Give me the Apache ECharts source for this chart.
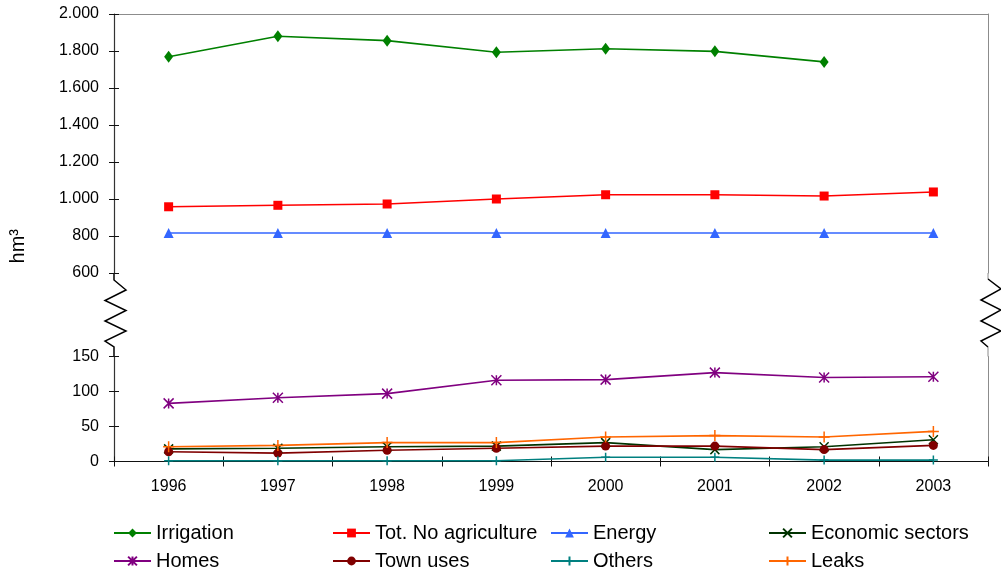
<!DOCTYPE html>
<html>
<head>
<meta charset="utf-8">
<script src="https://cdn.jsdelivr.net/npm/echarts@6/dist/echarts.min.js"></script>
<style>
html,body{margin:0;padding:0;background:#fff;}
#chart{width:1001px;height:574px;}
</style>
</head>
<body>
<div id="chart"></div>
<script>
// ---- data ----
const years = ['1996','1997','1998','1999','2000','2001','2002','2003'];
const irrigation = [1769, 1880, 1856, 1793, 1812, 1798, 1741, null];
const totNoAgri = [958, 966, 973, 1000, 1023, 1023, 1016, 1038];
const energy = [816, 816, 816, 816, 816, 816, 816, 816];
const economicSectors = [18, 19, 21, 22, 27, 17, 21, 31];
const homes = [83, 91, 97, 116, 117, 127, 120, 121];
const townUses = [14, 12, 16, 19, 22, 22, 17, 23];
const others = [1, 1, 1, 1, 6, 6, 2, 2];
const leaks = [21, 23, 27, 27, 35, 37, 35, 43];
const upperTicks = {min: 600, max: 2000, interval: 200};
const lowerTicks = {min: 0, max: 150, interval: 50};
const yTitle = 'hm³';

// ---- layout ----
const FONT = '"Liberation Sans", Arial, sans-serif';
const L = 114, R = 988;
const upTop = 14, upBot = 273;
const loTop = 356.5, loBot = 461.5;
const W = 1001, H = 574;

function fmt(v) {
  if (v >= 1000) {
    return Math.floor(v / 1000) + '.' + String(v % 1000).padStart(3, '0');
  }
  return String(v);
}

const PATH_X = 'path://M0,0 L10,10 M10,0 L0,10';
const PATH_AST = 'path://M0,0 L10,10 M10,0 L0,10 M5,0 L5,10';
const PATH_PLUS = 'path://M5,0 L5,10 M0,5 L10,5';

function mkSeries(name, data, color, symbol, size, grid, stroke) {
  const s = {
    name: name,
    type: 'line',
    data: data,
    xAxisIndex: grid === 0 ? 0 : 1,
    yAxisIndex: grid === 0 ? 0 : 3,
    symbol: symbol,
    symbolSize: size,
    showAllSymbol: true,
    connectNulls: false,
    lineStyle: {color: color, width: 1.6},
    itemStyle: {color: color},
    emphasis: {disabled: true},
    animation: false
  };
  if (stroke) {
    s.itemStyle = {color: color, borderColor: color, borderWidth: 1.5};
  }
  return s;
}

const series = [
  mkSeries('Irrigation', irrigation, '#008000', 'diamond', [9, 12], 0, false),
  mkSeries('Tot. No agriculture', totNoAgri, '#FF0000', 'rect', 9, 0, false),
  mkSeries('Energy', energy, '#3366FF', 'triangle', 10, 0, false),
  mkSeries('Economic sectors', economicSectors, '#003300', PATH_X, 9, 1, true),
  mkSeries('Homes', homes, '#800080', PATH_AST, 10, 1, true),
  mkSeries('Town uses', townUses, '#800000', 'circle', 9, 1, false),
  mkSeries('Others', others, '#008080', PATH_PLUS, 9, 1, true),
  mkSeries('Leaks', leaks, '#FF6600', PATH_PLUS, 11, 1, true)
];

// legend positions (icon left, row centre)
const legendPos = [
  [113, 534], [332, 534], [550, 534], [768, 534],
  [113, 562], [332, 562], [550, 562], [768, 562]
];
const legendOrder = ['Irrigation', 'Tot. No agriculture', 'Energy', 'Economic sectors',
  'Homes', 'Town uses', 'Others', 'Leaks'];
const legends = legendOrder.map((n, i) => ({
  data: [n],
  left: legendPos[i][0],
  top: legendPos[i][1] - 11,
  padding: 0,
  itemWidth: 37,
  itemHeight: 11,
  itemGap: 0,
  selectedMode: false,
  textStyle: {fontFamily: FONT, fontSize: 20, color: '#000'}
}));

const axisDark = '#333';
const gray = '#8c8c8c';

const option = {
  animation: false,
  backgroundColor: '#fff',
  textStyle: {fontFamily: FONT},
  legend: legends,
  grid: [
    {left: L, right: W - R, top: upTop, bottom: H - upBot, containLabel: false},
    {left: L, right: W - R, top: loTop, bottom: H - loBot, containLabel: false}
  ],
  xAxis: [
    {gridIndex: 0, type: 'category', data: years, position: 'top',
      axisLine: {onZero: false, lineStyle: {color: gray, width: 1}},
      axisTick: {show: false}, axisLabel: {show: false}, splitLine: {show: false}},
    {gridIndex: 1, type: 'category', data: years, position: 'bottom',
      axisLine: {onZero: false, lineStyle: {color: '#111', width: 1.2}},
      axisTick: {show: true, inside: false, length: 5, lineStyle: {color: '#111'}},
      axisLabel: {fontFamily: FONT, fontSize: 16, color: '#000', margin: 17},
      splitLine: {show: false}},
    {gridIndex: 1, type: 'category', data: years, position: 'bottom',
      axisLine: {show: false},
      axisTick: {show: true, inside: true, length: 5, lineStyle: {color: '#111'}},
      axisLabel: {show: false}, splitLine: {show: false}}
  ],
  yAxis: [
    {gridIndex: 0, type: 'value', position: 'left', min: upperTicks.min, max: upperTicks.max, interval: upperTicks.interval,
      axisLine: {show: true, onZero: false, lineStyle: {color: axisDark, width: 1.2}},
      axisTick: {show: true, inside: false, length: 5, lineStyle: {color: '#111'}},
      axisLabel: {fontFamily: FONT, fontSize: 16, color: '#000', margin: 15, formatter: fmt},
      splitLine: {show: false}},
    {gridIndex: 0, type: 'value', position: 'left', min: upperTicks.min, max: upperTicks.max, interval: upperTicks.interval,
      axisLine: {show: false},
      axisTick: {show: true, inside: true, length: 5, lineStyle: {color: '#111'}},
      axisLabel: {show: false}, splitLine: {show: false}},
    {gridIndex: 0, type: 'value', position: 'right', min: upperTicks.min, max: upperTicks.max, interval: upperTicks.interval,
      axisLine: {show: true, onZero: false, lineStyle: {color: gray, width: 1}},
      axisTick: {show: false}, axisLabel: {show: false}, splitLine: {show: false}},
    {gridIndex: 1, type: 'value', position: 'left', min: lowerTicks.min, max: lowerTicks.max, interval: lowerTicks.interval,
      axisLine: {show: true, onZero: false, lineStyle: {color: axisDark, width: 1.2}},
      axisTick: {show: true, inside: false, length: 5, lineStyle: {color: '#111'}},
      axisLabel: {fontFamily: FONT, fontSize: 16, color: '#000', margin: 15},
      splitLine: {show: false}},
    {gridIndex: 1, type: 'value', position: 'left', min: lowerTicks.min, max: lowerTicks.max, interval: lowerTicks.interval,
      axisLine: {show: false},
      axisTick: {show: true, inside: true, length: 5, lineStyle: {color: '#111'}},
      axisLabel: {show: false}, splitLine: {show: false}},
    {gridIndex: 1, type: 'value', position: 'right', min: lowerTicks.min, max: lowerTicks.max, interval: lowerTicks.interval,
      axisLine: {show: true, onZero: false, lineStyle: {color: gray, width: 1}},
      axisTick: {show: false}, axisLabel: {show: false}, splitLine: {show: false}}
  ],
  graphic: [
    {type: 'text', left: 8, top: 247 - 18, rotation: Math.PI / 2,
      style: {text: yTitle, font: '20px ' + FONT, fill: '#000'}},
    // left axis break
    {type: 'polyline', silent: true, shape: {points: [
      [L, upBot], [L, 280], [126, 290], [105, 300.5], [126, 310.5], [105, 321], [126, 331], [105, 341], [L, 347], [L, loTop]
    ]}, style: {stroke: '#000', lineWidth: 1.5, fill: null}},
    // right axis extensions
    {type: 'line', silent: true, shape: {x1: R, y1: upBot, x2: R, y2: 279}, style: {stroke: gray, lineWidth: 1}},
    {type: 'line', silent: true, shape: {x1: R, y1: 347, x2: R, y2: loTop}, style: {stroke: gray, lineWidth: 1}},
    {type: 'polyline', silent: true, shape: {points: [
      [R, 279], [1001, 289], [981, 300], [1001, 310], [981, 321], [1001, 331], [981, 341], [R, 347]
    ]}, style: {stroke: '#000', lineWidth: 1.5, fill: null}}
  ],
  series: series
};

const chart = echarts.init(document.getElementById('chart'), null, {renderer: 'canvas'});
chart.setOption(option);
</script>
</body>
</html>
